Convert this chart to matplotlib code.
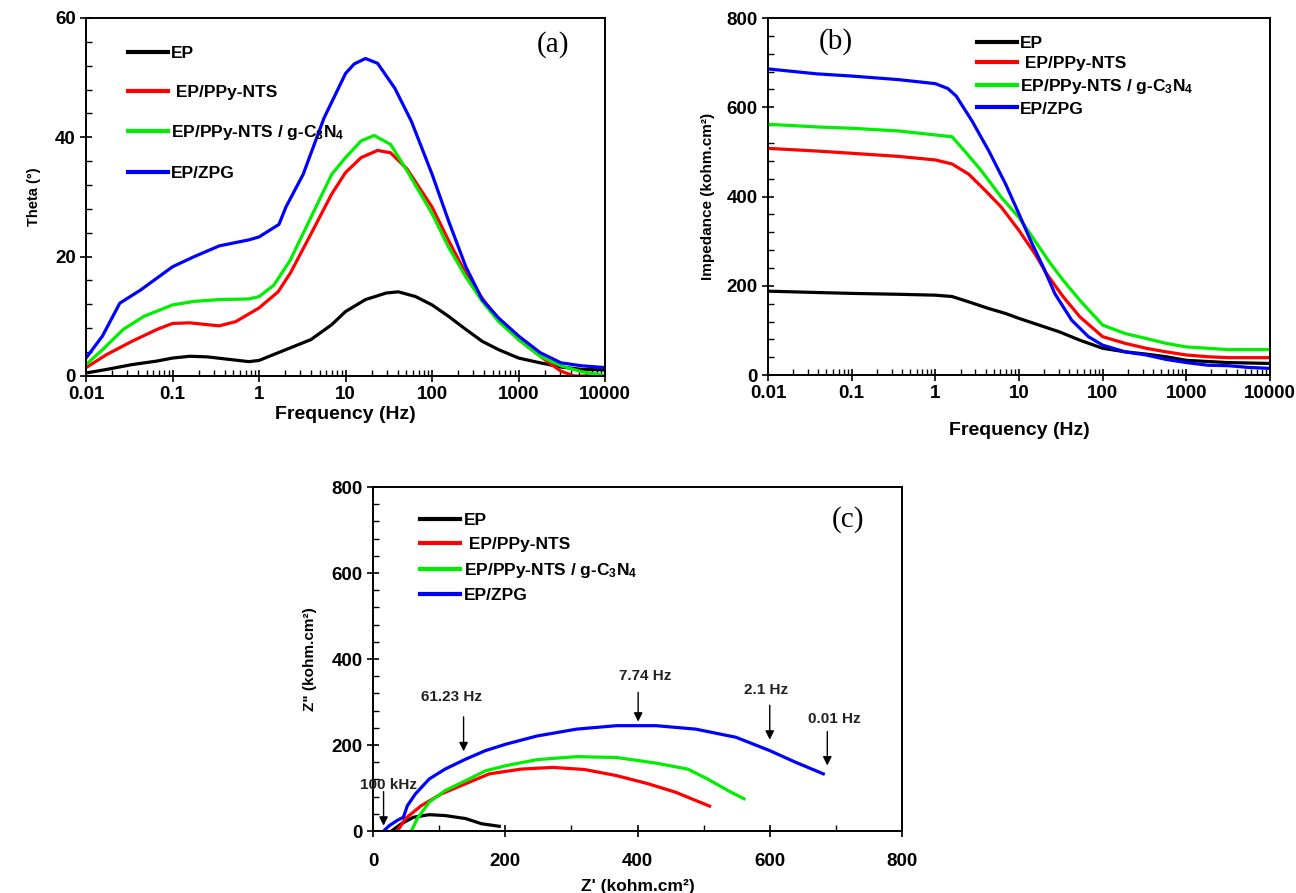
import numpy as np
import matplotlib
matplotlib.use("Agg")
import matplotlib.pyplot as plt
from matplotlib.ticker import FixedLocator, FixedFormatter, MultipleLocator

plt.rcParams['font.family'] = ['Liberation Sans', 'DejaVu Sans']
plt.rcParams['font.weight'] = 'bold'
plt.rcParams['mathtext.fontset'] = 'custom'
plt.rcParams['mathtext.rm'] = 'Liberation Sans:bold'
plt.rcParams['mathtext.bf'] = 'Liberation Sans:bold'
plt.rcParams['mathtext.default'] = 'bf'

# series names and colours
labels = ["EP", " EP/PPy-NTS", "EP/PPy-NTS / g-C$_3$N$_4$", "EP/ZPG"]
colors = ["black", "#ff0000", "#00ee00", "#0000ff"]

# (a) phase angle vs frequency, log10(f) and theta (deg)
a_logf_ep = [-1.98, -1.76, -1.47, -1.18, -1.0, -0.8, -0.6, -0.36, -0.12, 0.0, 0.17, 0.36, 0.6, 0.84,
             1.0, 1.23, 1.47, 1.61, 1.81, 2.0, 2.19, 2.39, 2.58, 2.77, 3.0, 3.25, 3.49, 3.73, 4.0]
a_th_ep = [0.55, 1.1, 1.9, 2.5, 3.0, 3.3, 3.2, 2.8, 2.4, 2.6, 3.6, 4.7, 6.1, 8.6,
           10.8, 12.8, 13.9, 14.1, 13.3, 11.9, 10.0, 7.8, 5.8, 4.4, 3.0, 2.2, 1.5, 1.1, 1.0]
a_logf_ppy = [-2.0, -1.76, -1.47, -1.18, -1.0, -0.8, -0.6, -0.46, -0.27, 0.0, 0.22, 0.36, 0.6, 0.84,
              1.0, 1.18, 1.37, 1.52, 1.71, 2.0, 2.19, 2.39, 2.58, 2.77, 3.0, 3.25, 3.49, 3.64, 4.0]
a_th_ppy = [1.4, 3.6, 5.8, 7.8, 8.8, 8.9, 8.6, 8.4, 9.1, 11.4, 14.1, 17.2, 23.8, 30.5,
            34.1, 36.6, 37.8, 37.4, 34.7, 28.3, 22.7, 17.2, 13.0, 9.4, 6.1, 3.3, 0.8, 0.0, 0.0]
a_logf_gcn = [-2.0, -1.81, -1.57, -1.33, -1.0, -0.75, -0.46, -0.12, 0.0, 0.17, 0.36, 0.6, 0.84,
              1.0, 1.18, 1.33, 1.52, 1.71, 2.0, 2.19, 2.39, 2.58, 2.77, 3.0, 3.25, 3.49, 3.73, 4.0]
a_th_gcn = [1.9, 4.4, 7.8, 10.0, 11.9, 12.5, 12.8, 12.9, 13.3, 15.2, 19.4, 26.6, 33.8,
            36.6, 39.4, 40.3, 38.8, 34.4, 27.2, 21.6, 16.6, 12.5, 9.1, 6.1, 3.3, 1.7, 0.7, 0.1]
a_logf_zpg = [-2.0, -1.81, -1.61, -1.37, -1.0, -0.75, -0.46, -0.12, 0.0, 0.23, 0.31, 0.51, 0.75,
              1.0, 1.1, 1.23, 1.37, 1.57, 1.76, 2.0, 2.19, 2.39, 2.58, 2.77, 3.0, 3.25, 3.49, 3.73, 4.0]
a_th_zpg = [3.0, 6.7, 12.2, 14.4, 18.3, 20.0, 21.8, 22.8, 23.3, 25.4, 28.3, 33.8, 43.2,
            50.7, 52.3, 53.2, 52.4, 48.2, 42.7, 33.8, 26.0, 18.3, 12.8, 9.7, 6.7, 3.9, 2.2, 1.7, 1.4]

# (b) impedance modulus vs frequency, log10(f) and |Z| (kohm.cm2)
b_logf_ep = [-2.0, -1.42, -1.0, -0.44, 0.0, 0.2, 0.4, 0.64, 0.84, 1.0, 1.24, 1.48, 1.73, 2.0,
             2.27, 2.52, 2.76, 3.0, 3.5, 4.0]
b_z_ep = [188, 185, 183, 181, 179, 176, 164, 149, 138, 127, 112, 97, 78, 60,
          52, 47, 41, 33, 28, 26]
b_logf_ppy = [-2.0, -1.42, -1.0, -0.44, 0.0, 0.2, 0.4, 0.6, 0.79, 1.0, 1.19, 1.33, 1.53, 1.73,
              2.0, 2.27, 2.52, 2.76, 3.0, 3.26, 3.5, 4.0]
b_z_ppy = [508, 502, 497, 490, 482, 473, 450, 413, 376, 324, 272, 227, 175, 130,
           86, 71, 60, 52, 45, 41, 39, 39]
b_logf_gcn = [-2.0, -1.42, -1.0, -0.44, 0.0, 0.2, 0.35, 0.55, 0.79, 1.0, 1.19, 1.38, 1.53, 1.73,
              2.0, 2.27, 2.52, 2.76, 3.0, 3.26, 3.5, 4.0]
b_z_gcn = [562, 556, 553, 547, 538, 534, 502, 458, 398, 353, 301, 249, 212, 167,
           112, 93, 82, 71, 63, 60, 57, 57]
b_logf_zpg = [-2.0, -1.42, -1.0, -0.44, 0.0, 0.15, 0.25, 0.44, 0.64, 0.84, 1.0, 1.14, 1.29, 1.43,
              1.63, 1.83, 2.0, 2.27, 2.52, 2.76, 3.0, 3.26, 3.5, 3.75, 4.0]
b_z_zpg = [686, 675, 670, 662, 653, 642, 625, 569, 502, 428, 361, 301, 242, 182,
           123, 86, 67, 52, 45, 35, 28, 22, 21, 17, 15]

# (c) Nyquist, Z' and Z'' (kohm.cm2)
c_zr_ep = [28, 43, 61, 85, 109, 140, 164, 191]
c_zi_ep = [0, 17, 32, 38, 36, 29, 17, 11]
c_zr_ppy = [37, 49, 73, 103, 140, 176, 224, 272, 320, 368, 416, 458, 488, 509]
c_zi_ppy = [0, 29, 59, 86, 110, 133, 144, 148, 143, 129, 110, 90, 71, 58]
c_zr_gcn = [58, 67, 85, 109, 140, 170, 201, 248, 308, 368, 428, 476, 506, 537, 561]
c_zi_gcn = [0, 29, 67, 94, 117, 140, 152, 166, 173, 171, 158, 144, 121, 94, 75]
c_zr_zpg = [16, 25, 37, 46, 52, 64, 85, 109, 140, 170, 201, 248, 308, 368, 428, 488, 549, 600, 639, 681]
c_zi_zpg = [0, 13, 25, 32, 59, 86, 121, 144, 167, 187, 202, 221, 237, 245, 245, 237, 218, 187, 160, 133]

# frequency markers on the Nyquist plot: text, text position, arrow tail, arrow tip
ann_text = ["100 kHz", "61.23 Hz", "7.74 Hz", "2.1 Hz", "0.01 Hz"]
ann_text_xy = [(24, 107), (118, 312), (411, 360), (595, 328), (698, 260)]
ann_tail = [(16, 98), (137, 272), (401, 329), (600, 299), (687, 238)]
ann_tip = [(16, 6), (137, 179), (401, 248), (600, 206), (687, 146)]

freq_ticks = [0.01, 0.1, 1, 10, 100, 1000, 10000]
freq_ticklabels = ["0.01", "0.1", "1", "10", "100", "1000", "10000"]

fig = plt.figure(figsize=(12.96, 8.93), dpi=100)
ax_a = fig.add_axes([0.0664, 0.579, 0.4005, 0.4009])
ax_b = fig.add_axes([0.5926, 0.580, 0.3873, 0.3998])
ax_c = fig.add_axes([0.2878, 0.0694, 0.4082, 0.3852])


def style_axes(ax):
    for s in ax.spines.values():
        s.set_linewidth(1.4)
    ax.tick_params(which='major', direction='inout', length=8, width=1.2, labelsize=13.5)
    ax.tick_params(which='minor', direction='in', length=4, width=1.0)
    for t in ax.get_xticklabels() + ax.get_yticklabels():
        t.set_fontweight('bold')


def freq_axis(ax):
    ax.set_xscale('log')
    ax.set_xlim(0.01, 10000)
    ax.xaxis.set_major_locator(FixedLocator(freq_ticks))
    ax.xaxis.set_major_formatter(FixedFormatter(freq_ticklabels))
    ax.set_xlabel("Frequency (Hz)", fontsize=14, fontweight='bold', labelpad=8)


def big_legend(ax, anchor, spacing):
    leg = ax.legend(loc='upper left', bbox_to_anchor=anchor, frameon=False, fontsize=12.5,
                    handlelength=2.3, handletextpad=0.2, labelspacing=spacing)
    for h in leg.get_lines():
        h.set_linewidth(3)
    return leg


# panel (a)
a_x = [a_logf_ep, a_logf_ppy, a_logf_gcn, a_logf_zpg]
a_y = [a_th_ep, a_th_ppy, a_th_gcn, a_th_zpg]
for xs, ys, lab, col in zip(a_x, a_y, labels, colors):
    ax_a.plot(10 ** np.array(xs), ys, color=col, lw=2.3, label=lab)
freq_axis(ax_a)
ax_a.xaxis.labelpad = 2
ax_a.set_ylim(0, 60)
ax_a.yaxis.set_major_locator(MultipleLocator(20))
ax_a.yaxis.set_minor_locator(MultipleLocator(4))
ax_a.set_ylabel("Theta (°)", fontsize=10.5, fontweight='bold', labelpad=10)
style_axes(ax_a)
big_legend(ax_a, (0.05, 0.965), 1.35)
ax_a.text(0.90, 0.925, "(a)", transform=ax_a.transAxes, ha='center', va='center',
          fontsize=21, fontweight='normal', family='Liberation Serif')

# panel (b)
b_x = [b_logf_ep, b_logf_ppy, b_logf_gcn, b_logf_zpg]
b_y = [b_z_ep, b_z_ppy, b_z_gcn, b_z_zpg]
for xs, ys, lab, col in zip(b_x, b_y, labels, colors):
    ax_b.plot(10 ** np.array(xs), ys, color=col, lw=2.3, label=lab)
freq_axis(ax_b)
ax_b.xaxis.labelpad = 14
ax_b.set_ylim(0, 800)
ax_b.yaxis.set_major_locator(MultipleLocator(200))
ax_b.yaxis.set_minor_locator(MultipleLocator(40))
ax_b.set_ylabel("Impedance (kohm.cm²)", fontsize=11, fontweight='bold', labelpad=8)
style_axes(ax_b)
big_legend(ax_b, (0.385, 0.995), 0.32)
ax_b.text(0.135, 0.935, "(b)", transform=ax_b.transAxes, ha='center', va='center',
          fontsize=21, fontweight='normal', family='Liberation Serif')

# panel (c)
c_x = [c_zr_ep, c_zr_ppy, c_zr_gcn, c_zr_zpg]
c_y = [c_zi_ep, c_zi_ppy, c_zi_gcn, c_zi_zpg]
for xs, ys, lab, col in zip(c_x, c_y, labels, colors):
    ax_c.plot(xs, ys, color=col, lw=2.3, label=lab)
ax_c.set_xlim(0, 800)
ax_c.set_ylim(0, 800)
ax_c.xaxis.set_major_locator(MultipleLocator(200))
ax_c.xaxis.set_minor_locator(MultipleLocator(100))
ax_c.yaxis.set_major_locator(MultipleLocator(200))
ax_c.yaxis.set_minor_locator(MultipleLocator(40))
ax_c.set_xlabel("Z' (kohm.cm²)", fontsize=12.5, fontweight='bold', labelpad=6)
ax_c.set_ylabel('Z" (kohm.cm²)', fontsize=11, fontweight='bold', labelpad=10)
style_axes(ax_c)
ax_c.tick_params(axis='x', which='major', pad=12)
big_legend(ax_c, (0.06, 0.97), 0.5)
ax_c.text(0.898, 0.905, "(c)", transform=ax_c.transAxes, ha='center', va='center',
          fontsize=21, fontweight='normal', family='Liberation Serif')

for txt, txy, tail, tip in zip(ann_text, ann_text_xy, ann_tail, ann_tip):
    ax_c.text(txy[0], txy[1], txt, ha='center', va='center', fontsize=11, fontweight='bold',
              color='#222222')
    ax_c.annotate("", xy=tip, xytext=tail,
                  arrowprops=dict(arrowstyle='-|>', color='black', lw=1.0, mutation_scale=13))

fig.savefig("out.png", dpi=100)
